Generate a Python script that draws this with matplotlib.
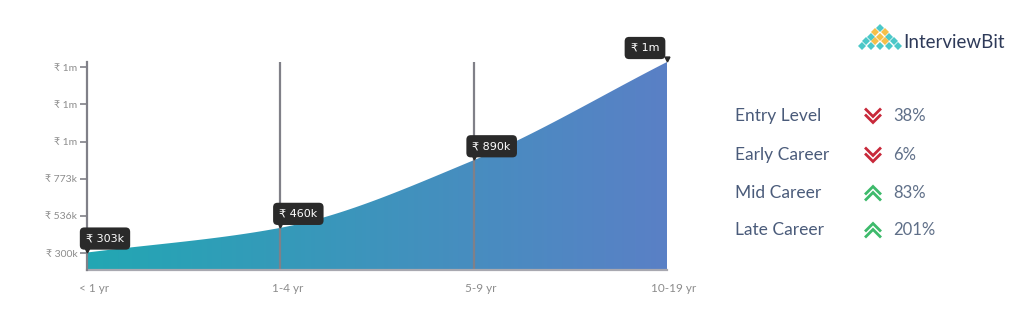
import numpy as np
import matplotlib
matplotlib.use("Agg")
import matplotlib.pyplot as plt
from matplotlib.path import Path
from matplotlib.patches import PathPatch
from matplotlib.lines import Line2D
from matplotlib.colors import LinearSegmentedColormap
import matplotlib.transforms as mtrans

# data (values in thousands of rupees)
stages = ["< 1 yr", "1-4 yr", "5-9 yr", "10-19 yr"]
salary = [303, 460, 890, 1515]
salary_labels = ["₹ 303k", "₹ 460k", "₹ 890k", "₹ 1m"]
yticks = [300, 536, 773, 1009, 1245, 1482]
ytick_labels = ["₹ 300k", "₹ 536k", "₹ 773k", "₹ 1m", "₹ 1m", "₹ 1m"]

levels = ["Entry Level", "Early Career", "Mid Career", "Late Career"]
change = ["38%", "6%", "83%", "201%"]
direction = [-1, -1, 1, 1]

W, H = 1024, 317
fig = plt.figure(figsize=(W / 100, H / 100), dpi=100)
plt.rcParams['font.family'] = ['Lato', 'DejaVu Sans']

ax = fig.add_axes([87 / W, 1 - 270 / H, (667 - 87) / W, (270 - 62) / H])
ax.set_xlim(0, 3)
ax.set_ylim(192, 1515)

# smooth curve through points (monotone cubic hermite, just for drawing)
x = np.arange(len(salary), dtype=float)
y = np.array(salary, dtype=float)
d = np.diff(y) / np.diff(x)
m = np.zeros_like(y)
m[0], m[-1] = d[0], d[-1]
for i in range(1, len(y) - 1):
    m[i] = 2 / (1 / d[i - 1] + 1 / d[i]) if d[i - 1] * d[i] > 0 else 0
xs, ys = [], []
for i in range(len(y) - 1):
    t = np.linspace(0, 1, 40)
    h00 = 2 * t**3 - 3 * t**2 + 1
    h10 = t**3 - 2 * t**2 + t
    h01 = -2 * t**3 + 3 * t**2
    h11 = t**3 - t**2
    xs.append(x[i] + t)
    ys.append(h00 * y[i] + h10 * m[i] + h01 * y[i + 1] + h11 * m[i + 1])
xs = np.concatenate(xs)
ys = np.concatenate(ys)

verts = [(0, 192)] + list(zip(xs, ys)) + [(3, 192), (0, 192)]
patch = PathPatch(Path(verts), facecolor="none", edgecolor="none")
ax.add_patch(patch)
cmap = LinearSegmentedColormap.from_list("g", ["#22a7b3", "#5a80c6"])
grad = np.linspace(0, 1, 256).reshape(1, -1)
im = ax.imshow(grad, cmap=cmap, aspect="auto", extent=[0, 3, 192, 1530],
               origin="lower", zorder=1)
im.set_clip_path(patch)
ax.set_ylim(192, 1515)

gray = "#808088"
for xv in [1, 2]:
    ax.axvline(xv, color=gray, lw=1.6, zorder=2)

for s in ["top", "right"]:
    ax.spines[s].set_visible(False)
ax.spines["left"].set_color(gray)
ax.spines["left"].set_linewidth(1.6)
ax.spines["bottom"].set_color("#a8a8b0")
ax.spines["bottom"].set_linewidth(1.6)
ax.spines["left"].set_zorder(3)

ax.set_yticks(yticks)
ax.set_yticklabels(ytick_labels)
ax.tick_params(axis="y", length=5, width=1.2, color=gray, labelsize=7.5,
               labelcolor="#8c8c8c", pad=2)
ax.set_xticks(range(len(stages)))
ax.set_xticklabels(stages)
ax.tick_params(axis="x", length=0, labelsize=8.5, labelcolor="#8c8c8c", pad=9)
off = mtrans.ScaledTranslation(7 / 100, 0, fig.dpi_scale_trans)
for lab in ax.get_xticklabels():
    lab.set_transform(lab.get_transform() + off)

# tooltips
for i, (v, lab) in enumerate(zip(salary, salary_labels)):
    dx = 18 if i < len(salary) - 1 else -22
    ax.annotate(lab, (i, v), xytext=(dx, 14), textcoords="offset pixels",
                ha="center", va="center", color="white", fontsize=8,
                family=["DejaVu Sans"], zorder=5, annotation_clip=False,
                bbox=dict(boxstyle="round,pad=0.55,rounding_size=0.4",
                          fc="#2a2a2a", ec="none"))
    ax.plot([i], [v], marker="v", ms=3.5, color="#2a2a2a", zorder=5,
            clip_on=False, transform=ax.transData +
            mtrans.ScaledTranslation(0, 3 / 100, fig.dpi_scale_trans))

# right panel
rows_y = [116, 155, 193, 230]
for lv, ch, dr, ry in zip(levels, change, direction, rows_y):
    fy = 1 - ry / H
    fig.text(735 / W, fy, lv, fontsize=12.5, color="#4a5b7a", va="center", ha="left")
    fig.text(893 / W, fy, ch, fontsize=12, color="#5f6f88", va="center", ha="left")
    col = "#c8283a" if dr < 0 else "#3dba6b"
    for k in (-1, 1):
        cy = ry + k * 3
        px = [866, 873, 880]
        if dr < 0:
            py = [cy - 3.5, cy + 3.5, cy - 3.5]
        else:
            py = [cy + 3.5, cy - 3.5, cy + 3.5]
        fig.add_artist(Line2D([p / W for p in px], [1 - p / H for p in py],
                              color=col, lw=2, solid_joinstyle="miter"))

# logo
fig.text(903 / W, 1 - 42 / H, "InterviewBit", fontsize=13.5, color="#2e3a59",
         va="center", ha="left")
dx_ = 4.6
dy_ = 4.4
for r in range(5):
    for c in range(r + 1):
        cx = 880 - r * dx_ + c * 2 * dx_
        cy = 28 + r * dy_
        inner = 0 < c < r or (r == 1)
        colr = "#f4c04a" if inner and r < 4 else "#4cc8c8"
        fig.add_artist(Line2D([cx / W], [1 - cy / H], marker="D", ms=4.2,
                              color=colr, lw=0, markeredgewidth=0))

fig.savefig("out.png", dpi=100)
